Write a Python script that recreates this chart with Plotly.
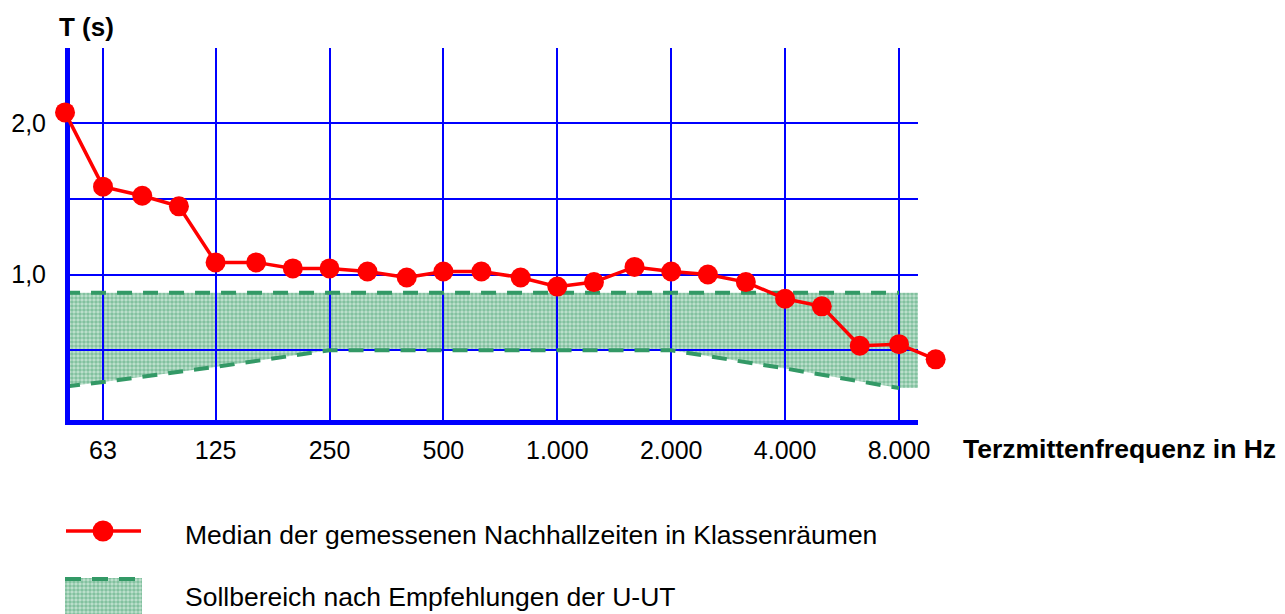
import plotly.graph_objects as go

# ---------------- data ----------------
freq = [50, 63, 80, 100, 125, 160, 200, 250, 315, 400, 500, 630, 800,
        1000, 1250, 1600, 2000, 2500, 3150, 4000, 5000, 6300, 8000, 10000]
t_median = [2.07, 1.58, 1.52, 1.45, 1.08, 1.08, 1.04, 1.04, 1.02, 0.98, 1.02, 1.02,
            0.98, 0.92, 0.95, 1.05, 1.02, 1.00, 0.95, 0.84, 0.79, 0.53, 0.54, 0.44]

band_freq = [50, 63, 125, 250, 2000, 4000, 8000, 8980]
band_upper = [0.88, 0.88, 0.88, 0.88, 0.88, 0.88, 0.88, 0.88]
band_lower = [0.26, 0.29, 0.39, 0.50, 0.50, 0.38, 0.25, 0.25]

x_tick_vals = [63, 125, 250, 500, 1000, 2000, 4000, 8000]
x_tick_text = ["63", "125", "250", "500", "1.000", "2.000", "4.000", "8.000"]
y_tick_vals = [0.5, 1.0, 1.5, 2.0]
y_tick_text = ["", "1,0", "", "2,0"]

# ---------------- layout constants ----------------
W, H = 1285, 614
PL, PR, PT, PB = 70, 918, 48, 420          # plot area in pixels
X_RANGE = [1.7121, 3.9533]                 # log10 Hz at PL / PR
Y_RANGE = [0.0396, 2.495]
# wider, invisible frame for the measured curve so edge points are not clipped
QL, QR = 30, 970
K = (X_RANGE[1] - X_RANGE[0]) / (PR - PL)
X_RANGE_WIDE = [X_RANGE[0] - (PL - QL) * K, X_RANGE[1] + (QR - PR) * K]

FONT = "Liberation Sans, Arial, sans-serif"
BLUE = "#0000ff"
RED = "#ff0000"
GREEN = "#339966"
PATTERN = dict(shape=".", fgcolor="#42a070", bgcolor="#c2e2cf", size=4, solidity=0.62)
DASH = "15px,11px"


def fx(p):
    return p / W


def fy(p):
    return 1 - p / H


fig = go.Figure()

# band fill (subplot 1, below the grid of subplot 2)
fig.add_trace(go.Scatter(
    x=band_freq + band_freq[::-1],
    y=band_upper + band_lower[::-1],
    fill="toself", mode="lines", line=dict(width=0),
    fillcolor="rgba(0,0,0,0)", fillpattern=PATTERN,
    xaxis="x", yaxis="y", hoverinfo="skip", showlegend=False))

# dashed band borders (subplot 2 with grid and axes)
fig.add_trace(go.Scatter(
    x=band_freq[:-1], y=band_upper[:-1], mode="lines",
    line=dict(color=GREEN, width=4, dash=DASH),
    xaxis="x2", yaxis="y2", showlegend=False))
fig.add_trace(go.Scatter(
    x=band_freq[:-1], y=band_lower[:-1], mode="lines",
    line=dict(color=GREEN, width=4, dash=DASH),
    xaxis="x2", yaxis="y2", showlegend=False))

# measured median (subplot 4, same scale, wider clip frame)
fig.add_trace(go.Scatter(
    x=freq, y=t_median, mode="lines+markers",
    line=dict(color=RED, width=3.5),
    marker=dict(color=RED, size=20),
    xaxis="x4", yaxis="y4", showlegend=False))

# legend keys (subplot 3, pixel space)
fig.add_trace(go.Scatter(
    x=[66, 141], y=[531, 531], mode="lines",
    line=dict(color=RED, width=3.5),
    xaxis="x3", yaxis="y3", showlegend=False))
fig.add_trace(go.Scatter(
    x=[103], y=[531], mode="markers",
    marker=dict(color=RED, size=21),
    xaxis="x3", yaxis="y3", showlegend=False))
fig.add_trace(go.Scatter(
    x=[65, 142, 142, 65, 65], y=[578, 578, 616, 616, 578],
    fill="toself", mode="lines", line=dict(width=0),
    fillcolor="rgba(0,0,0,0)", fillpattern=PATTERN,
    xaxis="x3", yaxis="y3", showlegend=False))
fig.add_trace(go.Scatter(
    x=[65, 142], y=[579, 579], mode="lines",
    line=dict(color=GREEN, width=4, dash="16px,11px"),
    xaxis="x3", yaxis="y3", showlegend=False))

dom_x = [fx(PL), fx(PR)]
dom_y = [fy(PB), fy(PT)]
hidden = dict(visible=False, fixedrange=True)

fig.update_layout(
    width=W, height=H,
    margin=dict(l=0, r=0, t=0, b=0, pad=0),
    paper_bgcolor="white",
    plot_bgcolor="rgba(0,0,0,0)",
    font=dict(family=FONT, color="black", size=25),
    xaxis=dict(type="log", range=X_RANGE, domain=dom_x, anchor="y", **hidden),
    yaxis=dict(range=Y_RANGE, domain=dom_y, anchor="x", **hidden),
    xaxis2=dict(type="log", range=X_RANGE, domain=dom_x, anchor="y2",
                tickmode="array", tickvals=x_tick_vals, ticktext=x_tick_text,
                showgrid=True, gridcolor=BLUE, gridwidth=2,
                showline=True, linecolor=BLUE, linewidth=5,
                zeroline=False, ticks="", ticklabelstandoff=4,
                tickfont=dict(family=FONT, size=25, color="black"),
                automargin=False, fixedrange=True),
    yaxis2=dict(range=Y_RANGE, domain=dom_y, anchor="x2",
                tickmode="array", tickvals=y_tick_vals, ticktext=y_tick_text,
                showgrid=True, gridcolor=BLUE, gridwidth=2,
                showline=True, linecolor=BLUE, linewidth=5,
                zeroline=False, ticks="", ticklabelstandoff=14,
                tickfont=dict(family=FONT, size=25, color="black"),
                automargin=False, fixedrange=True),
    xaxis3=dict(range=[0, W], domain=[0, 1], anchor="y3", **hidden),
    yaxis3=dict(range=[H, 0], domain=[0, 1], anchor="x3", **hidden),
    xaxis4=dict(type="log", range=X_RANGE_WIDE, domain=[fx(QL), fx(QR)],
                anchor="y4", **hidden),
    yaxis4=dict(range=Y_RANGE, domain=dom_y, anchor="x4", **hidden),
    showlegend=False,
    annotations=[
        dict(text="<b>T (s)</b>", x=fx(57), y=fy(27), xref="paper", yref="paper",
             xanchor="left", yanchor="middle", showarrow=False,
             font=dict(family=FONT, size=26, color="black")),
        dict(text="<b>Terzmittenfrequenz in Hz</b>", x=fx(961), y=fy(449),
             xref="paper", yref="paper", xanchor="left", yanchor="middle",
             showarrow=False, font=dict(family=FONT, size=26.5, color="black")),
        dict(text="Median der gemessenen Nachhallzeiten in Klassenräumen",
             x=fx(183), y=fy(535), xref="paper", yref="paper",
             xanchor="left", yanchor="middle", showarrow=False,
             font=dict(family=FONT, size=26.5, color="black")),
        dict(text="Sollbereich nach Empfehlungen der U-UT",
             x=fx(183), y=fy(597), xref="paper", yref="paper",
             xanchor="left", yanchor="middle", showarrow=False,
             font=dict(family=FONT, size=26.5, color="black")),
    ],
)

fig.write_html("out.html",
               config={"displayModeBar": False, "staticPlot": True},
               post_script="document.body.style.margin='0';"
                           "document.body.style.overflow='hidden';")
